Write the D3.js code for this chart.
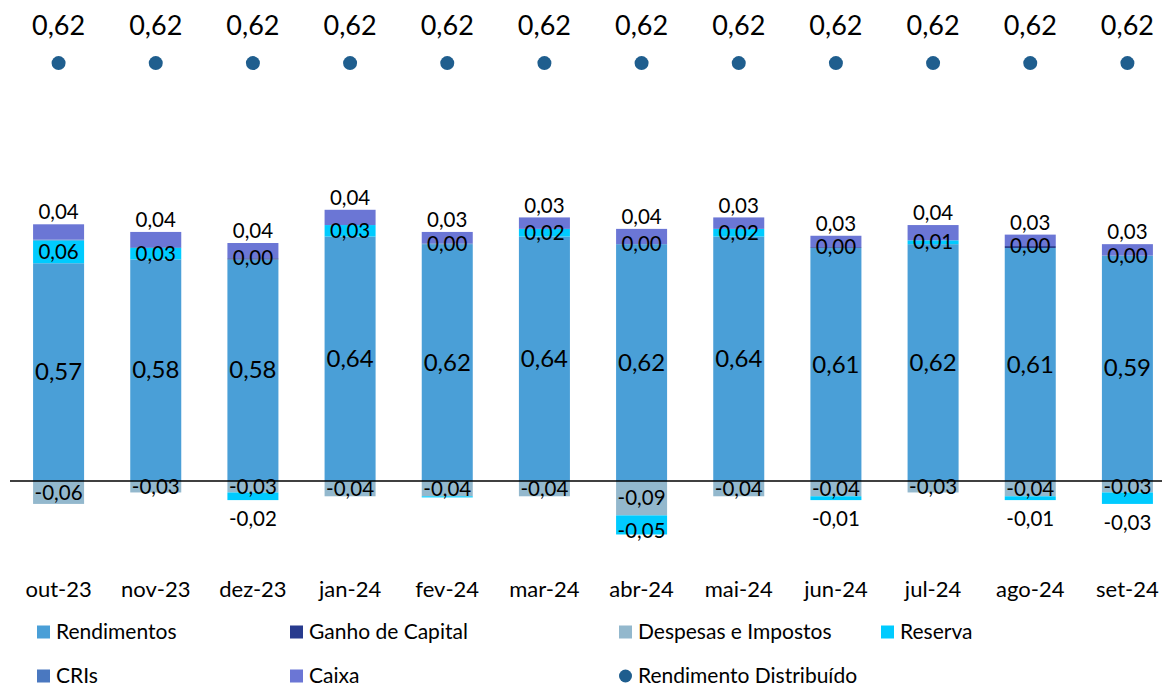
<!DOCTYPE html>
<html>
<head>
<meta charset="utf-8">
<script src="https://cdn.jsdelivr.net/npm/d3@7"></script>
<style>
  body { margin: 0; background: #fff; }
  svg { font-family: Lato, "Open Sans", sans-serif; }
</style>
</head>
<body>
<svg id="chart" width="1162" height="686"></svg>
<script>
const months = ["out-23", "nov-23", "dez-23", "jan-24", "fev-24", "mar-24", "abr-24", "mai-24", "jun-24", "jul-24", "ago-24", "set-24"];
const rendimentos = [0.57, 0.58, 0.58, 0.64, 0.62, 0.64, 0.62, 0.64, 0.61, 0.62, 0.61, 0.59];
const ganhoCapital = [0, 0, 0.003, 0, 0, 0, 0, 0, 0.002, 0, 0.005, 0];
const despesas = [-0.06, -0.03, -0.03, -0.04, -0.04, -0.04, -0.09, -0.04, -0.04, -0.03, -0.04, -0.03];
const reserva = [0.06, 0.03, 0, 0.03, 0, 0.02, 0, 0.02, 0, 0.01, 0, 0];
const reservaNeg = [0, 0, -0.02, 0, -0.003, 0, -0.05, 0, -0.01, 0, -0.01, -0.03];
const cris = [0.002, 0.002, 0, 0, 0.002, 0, 0, 0, 0, 0, 0, 0];
const caixa = [0.04, 0.04, 0.04, 0.04, 0.03, 0.03, 0.04, 0.03, 0.03, 0.04, 0.03, 0.03];
const distribuido = [0.62, 0.62, 0.62, 0.62, 0.62, 0.62, 0.62, 0.62, 0.62, 0.62, 0.62, 0.62];

const series = [
  { key: "rend", name: "Rendimentos", values: rendimentos, color: "#4a9fd7", label: "center" },
  { key: "ganho", name: "Ganho de Capital", values: ganhoCapital, color: "#283b8e", label: null },
  { key: "desp", name: "Despesas e Impostos", values: despesas, color: "#93b8cd", label: "center" },
  { key: "res", name: "Reserva", values: reserva, color: "#00cbff", label: "center" },
  { key: "resNeg", name: null, values: reservaNeg, color: "#00cbff", label: "below" },
  { key: "cris", name: "CRIs", values: cris, color: "#4a78c0", label: null },
  { key: "caixa", name: "Caixa", values: caixa, color: "#6b76d5", label: "above" }
];

const svg = d3.select("#chart");
const W = 1162;

const x = d3.scaleBand().domain(months).range([10, 1176]).paddingInner(0.475).paddingOuter(0.2375);
const y = d3.scaleLinear().domain([-0.1, 0.6]).range([519.2, 251.8]);
const y2 = d3.scaleLinear().domain([0, 0.7]).range([y(0), y(0) - 0.7 * 674]);
const fmt = v => d3.format(".2f")(v).replace(".", ",").replace("\u2212", "-");

// stack segments by hand (positive up, negative down)
const segs = [];
months.forEach((m, i) => {
  let pos = 0, neg = 0;
  series.forEach(s => {
    const v = s.values[i];
    let y0, y1;
    if (v >= 0) { y0 = pos; y1 = pos + v; pos = y1; }
    else { y1 = neg; y0 = neg + v; neg = y0; }
    segs.push({ m, i, s, v, y0, y1 });
  });
  segs.filter(d => d.i === i).forEach(d => { d.barTop = pos; d.barBottom = neg; });
});

svg.append("g").selectAll("rect")
  .data(segs.filter(d => d.v !== 0))
  .join("rect")
  .attr("x", d => x(d.m))
  .attr("width", x.bandwidth())
  .attr("y", d => y(d.y1))
  .attr("height", d => Math.max(0, y(d.y0) - y(d.y1)))
  .attr("fill", d => d.s.color);

// zero line
svg.append("line")
  .attr("x1", 10).attr("x2", W)
  .attr("y1", y(0)).attr("y2", y(0))
  .attr("stroke", "#000").attr("stroke-width", 1.5);

// bar labels
const labelData = segs.filter(d => {
  if (!d.s.label) return false;
  if (d.s.key === "resNeg") return Math.abs(d.v) >= 0.005;
  return true;
});

svg.append("g").selectAll("text")
  .data(labelData)
  .join("text")
  .attr("x", d => x(d.m) + x.bandwidth() / 2)
  .attr("y", d => {
    const mid = (y(d.y0) + y(d.y1)) / 2;
    if (d.s.label === "above") return y(d.barTop) - 10;
    if (d.s.label === "below") {
      const h = y(d.y0) - y(d.y1);
      return h >= 15 ? y(d.y0) - 2 : y(d.y0) + 21;
    }
    return mid + 2;
  })
  .attr("text-anchor", "middle")
  .attr("dominant-baseline", "middle")
  .attr("font-size", d => d.s.key === "rend" ? 24 : 20.5)
  .attr("fill", "#000")
  .text(d => fmt(d.v));

// distributed dots
const dots = svg.append("g");
dots.selectAll("circle")
  .data(distribuido)
  .join("circle")
  .attr("cx", (d, i) => x(months[i]) + x.bandwidth() / 2)
  .attr("cy", d => y2(d))
  .attr("r", 7)
  .attr("fill", "#1f5e8e");
dots.selectAll("text")
  .data(distribuido)
  .join("text")
  .attr("x", (d, i) => x(months[i]) + x.bandwidth() / 2)
  .attr("y", d => y2(d) - 35)
  .attr("text-anchor", "middle")
  .attr("dominant-baseline", "middle")
  .attr("font-size", 27)
  .text(d => fmt(d));

// category axis labels
const xAxis = svg.append("g")
  .attr("transform", "translate(0,591)")
  .call(d3.axisBottom(x).tickSize(0).tickPadding(0));
xAxis.select(".domain").remove();
xAxis.selectAll("text")
  .attr("font-size", 22)
  .attr("font-family", "Lato, sans-serif")
  .attr("fill", "#000")
  .attr("dy", "0")
  .attr("dominant-baseline", "middle");

// legend
const legendItems = [
  { name: "Rendimentos", color: "#4a9fd7", x: 37, y: 632 },
  { name: "Ganho de Capital", color: "#283b8e", x: 290, y: 632 },
  { name: "Despesas e Impostos", color: "#93b8cd", x: 619, y: 632 },
  { name: "Reserva", color: "#00cbff", x: 881, y: 632 },
  { name: "CRIs", color: "#4a78c0", x: 37, y: 676 },
  { name: "Caixa", color: "#6b76d5", x: 290, y: 676 },
  { name: "Rendimento Distribuído", color: "#1f5e8e", x: 619, y: 676, dot: true }
];
const lg = svg.append("g").selectAll("g")
  .data(legendItems)
  .join("g")
  .attr("transform", d => `translate(${d.x},${d.y})`);
lg.filter(d => !d.dot).append("rect")
  .attr("x", 0).attr("y", -6.5).attr("width", 13).attr("height", 13)
  .attr("fill", d => d.color);
lg.filter(d => d.dot).append("circle")
  .attr("cx", 6.5).attr("cy", 0).attr("r", 6.5)
  .attr("fill", d => d.color);
lg.append("text")
  .attr("x", 19).attr("y", 2)
  .attr("dominant-baseline", "middle")
  .attr("font-size", 21)
  .text(d => d.name);
</script>
</body>
</html>
